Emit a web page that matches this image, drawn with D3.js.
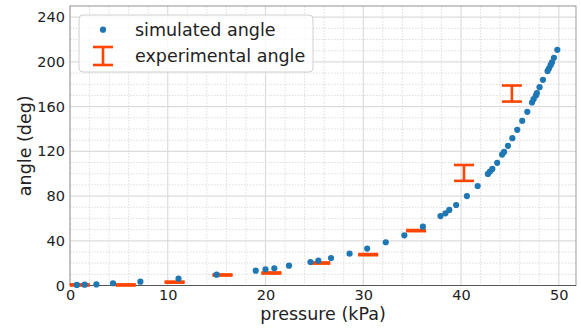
<!DOCTYPE html>
<html>
<head>
<meta charset="utf-8">
<script src="https://cdn.jsdelivr.net/npm/d3@7"></script>
<style>
  body { margin: 0; background: #fff; }
  svg { font-family: "DejaVu Sans", sans-serif; }
</style>
</head>
<body>
<svg width="581" height="329"></svg>
<script>
// simulated angle (blue dots)
const simPressure = [0.7, 1.5, 2.7, 4.4, 7.2, 11.1, 15.0, 19.0, 20.0, 20.9, 22.4, 24.6, 25.4, 26.7, 28.6,
    30.4, 32.3, 34.2, 36.1, 37.9, 38.4, 38.8, 39.5, 40.6, 41.7, 42.75, 42.96, 43.2, 43.7, 44.2, 44.4,
    44.8, 45.25, 45.75, 46.26, 46.78, 47.26, 47.42, 47.66, 47.76, 48.03, 48.38, 48.85, 48.99, 49.16,
    49.3, 49.5, 49.85];
const simAngle = [0.5, 0.7, 1, 2, 3.4, 6.1, 9.7, 13.3, 14.5, 15.4, 17.7, 21, 22.2, 24.6, 28.5,
    33, 38.7, 44.9, 52.6, 62.1, 64.6, 67.6, 72, 80, 89, 99.8, 101.9, 104.3, 109.7, 117.1, 119.5,
    124.9, 131.8, 139.2, 147.3, 155.3, 163.7, 166.7, 169.9, 172, 177.4, 184, 191.8, 194.1, 197.1,
    199.5, 203.7, 210.8];

// experimental angle (error bars)
const expPressure = [1.0, 5.7, 10.7, 15.6, 20.6, 25.6, 30.5, 35.4, 40.3, 45.2];
const expAngle = [0.5, 0.5, 3, 9.4, 11.2, 20.1, 27.6, 49.1, 100.7, 171.7];
const expError = [0.5, 0.5, 0.5, 0.5, 0.5, 0.5, 0.5, 0.5, 7.1, 7.2];

const xTicks = [0, 10, 20, 30, 40, 50];
const yTicks = [0, 40, 80, 120, 160, 200, 240];

const margin = { top: 6, right: 5, bottom: 43.5, left: 70 };
const width = 581 - margin.left - margin.right;
const height = 329 - margin.top - margin.bottom;

const blue = "#1f77b4";
const red = "#ff4500";

const svg = d3.select("svg");
const g = svg.append("g")
    .attr("transform", "translate(" + margin.left + "," + margin.top + ")");

const x = d3.scaleLinear().domain([0, 51.76]).range([0, width]);
const y = d3.scaleLinear().domain([0, 250]).range([height, 0]);

// minor grid
g.append("g")
    .selectAll("line")
    .data(d3.range(2, 52, 2).filter(d => d % 10 !== 0))
    .enter().append("line")
    .attr("x1", d => x(d)).attr("x2", d => x(d))
    .attr("y1", 0).attr("y2", height)
    .attr("stroke", "#d4d4d4").attr("stroke-width", 0.8).attr("stroke-dasharray", "1.5,1.5");
g.append("g")
    .selectAll("line")
    .data(d3.range(10, 251, 10).filter(d => d % 40 !== 0))
    .enter().append("line")
    .attr("x1", 0).attr("x2", width)
    .attr("y1", d => y(d)).attr("y2", d => y(d))
    .attr("stroke", "#d4d4d4").attr("stroke-width", 0.8).attr("stroke-dasharray", "1.5,1.5");

// major grid
g.append("g")
    .selectAll("line")
    .data(xTicks)
    .enter().append("line")
    .attr("x1", d => x(d)).attr("x2", d => x(d))
    .attr("y1", 0).attr("y2", height)
    .attr("stroke", "#dcdcdc").attr("stroke-width", 1.2);
g.append("g")
    .selectAll("line")
    .data(yTicks)
    .enter().append("line")
    .attr("x1", 0).attr("x2", width)
    .attr("y1", d => y(d)).attr("y2", d => y(d))
    .attr("stroke", "#dcdcdc").attr("stroke-width", 1.2);

// axes
const xAxis = g.append("g")
    .attr("transform", "translate(0," + height + ")")
    .call(d3.axisBottom(x).tickValues(xTicks).tickSize(0).tickPadding(4));
const yAxis = g.append("g")
    .call(d3.axisLeft(y).tickValues(yTicks).tickSize(0).tickPadding(5));
[xAxis, yAxis].forEach(a => {
    a.select(".domain").remove();
    a.selectAll("text")
        .attr("font-family", "DejaVu Sans, sans-serif")
        .attr("font-size", "14.5px")
        .attr("fill", "#222");
});

// frame
g.append("rect")
    .attr("width", width).attr("height", height)
    .attr("fill", "none").attr("stroke", "#999").attr("stroke-width", 1);
g.append("line")
    .attr("x1", 0).attr("x2", width).attr("y1", height).attr("y2", height)
    .attr("stroke", "#555").attr("stroke-width", 1);

// error bars
const capW = 10;
const eb = g.append("g").selectAll("g")
    .data(expPressure.map((p, i) => ({ p: p, a: expAngle[i], e: expError[i] })))
    .enter().append("g")
    .attr("stroke", red).attr("stroke-width", 2.6);
eb.append("line")
    .attr("x1", d => x(d.p)).attr("x2", d => x(d.p))
    .attr("y1", d => y(d.a - d.e)).attr("y2", d => y(d.a + d.e));
eb.append("line")
    .attr("x1", d => x(d.p) - capW).attr("x2", d => x(d.p) + capW)
    .attr("y1", d => y(d.a - d.e)).attr("y2", d => y(d.a - d.e));
eb.append("line")
    .attr("x1", d => x(d.p) - capW).attr("x2", d => x(d.p) + capW)
    .attr("y1", d => y(d.a + d.e)).attr("y2", d => y(d.a + d.e));

// simulated points
g.append("g").selectAll("circle")
    .data(simPressure.map((p, i) => ({ p: p, a: simAngle[i] })))
    .enter().append("circle")
    .attr("cx", d => x(d.p))
    .attr("cy", d => y(d.a))
    .attr("r", 3.1)
    .attr("fill", blue);

// axis labels
svg.append("text")
    .attr("x", margin.left + width / 2).attr("y", 319.5)
    .attr("text-anchor", "middle")
    .attr("font-size", "17.5px").attr("fill", "#222")
    .text("pressure (kPa)");
svg.append("text")
    .attr("transform", "translate(31," + (margin.top + height / 2) + ") rotate(-90)")
    .attr("text-anchor", "middle")
    .attr("font-size", "17.5px").attr("fill", "#222")
    .text("angle (deg)");

// legend
const lg = svg.append("g").attr("transform", "translate(79,15)");
lg.append("rect")
    .attr("width", 234).attr("height", 57).attr("rx", 4)
    .attr("fill", "#fff").attr("fill-opacity", 0.8)
    .attr("stroke", "#d0d0d0").attr("stroke-width", 1);
lg.append("circle").attr("cx", 24).attr("cy", 14.7).attr("r", 3.1).attr("fill", blue);
const li = lg.append("g").attr("stroke", red).attr("stroke-width", 2.6);
li.append("line").attr("x1", 24).attr("x2", 24).attr("y1", 32).attr("y2", 50);
li.append("line").attr("x1", 14).attr("x2", 34).attr("y1", 32).attr("y2", 32);
li.append("line").attr("x1", 14).attr("x2", 34).attr("y1", 50).attr("y2", 50);
lg.append("text").attr("x", 56).attr("y", 20.7)
    .attr("font-size", "17.5px").attr("fill", "#222").text("simulated angle");
lg.append("text").attr("x", 56).attr("y", 46.7)
    .attr("font-size", "17.5px").attr("fill", "#222").text("experimental angle");
</script>
</body>
</html>
